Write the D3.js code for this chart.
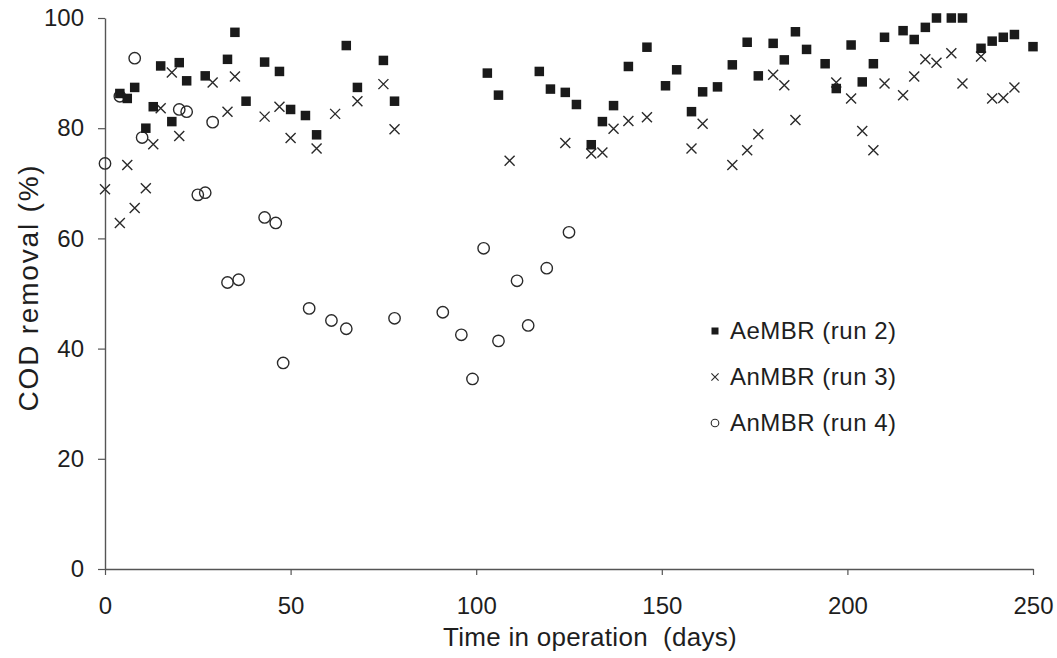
<!DOCTYPE html>
<html>
<head>
<meta charset="utf-8">
<script src="https://cdn.jsdelivr.net/npm/d3@7"></script>
<style>
  html, body { margin: 0; padding: 0; background: #fff; }
  svg { display: block; font-family: "Liberation Sans", Arial, sans-serif; }
</style>
</head>
<body>
<svg id="chart" width="1057" height="658"></svg>
<script>
// COD removal over time in operation for three reactor runs
const xTicks = [0, 50, 100, 150, 200, 250];
const yTicks = [0, 20, 40, 60, 80, 100];

// AeMBR (run 2)
const aeRun2Days = [4, 6, 8, 11, 13, 15, 18, 20, 22, 27, 33, 35, 38, 43, 47, 50, 54, 57, 65, 68, 75, 78,
  103, 106, 117, 120, 124, 127, 131, 134, 137, 141, 146, 151, 154, 158, 161, 165, 169, 173, 176, 180,
  183, 186, 189, 194, 197, 201, 204, 207, 210, 215, 218, 221, 224, 228, 231, 236, 239, 242, 245, 250];
const aeRun2Removal = [86.3, 85.4, 87.4, 80.0, 83.9, 91.3, 81.2, 91.9, 88.6, 89.5, 92.5, 97.4, 84.9, 92.0, 90.3, 83.4, 82.3, 78.8, 95.0, 87.4, 92.3, 84.9,
  90.0, 86.0, 90.3, 87.1, 86.5, 84.3, 77.0, 81.2, 84.1, 91.2, 94.7, 87.7, 90.6, 83.0, 86.6, 87.5, 91.5, 95.6, 89.5, 95.4,
  92.4, 97.5, 94.3, 91.7, 87.2, 95.1, 88.4, 91.7, 96.5, 97.7, 96.1, 98.3, 100, 100, 100, 94.5, 95.8, 96.5, 97.0, 94.8];

// AnMBR (run 3)
const anRun3Days = [0, 4, 6, 8, 11, 13, 15, 18, 20, 29, 33, 35, 43, 47, 50, 57, 62, 68, 75, 78,
  109, 124, 131, 134, 137, 141, 146, 158, 161, 169, 173, 176, 180, 183, 186, 197, 201, 204, 207, 210,
  215, 218, 221, 224, 228, 231, 236, 239, 242, 245];
const anRun3Removal = [68.9, 62.8, 73.3, 65.5, 69.1, 77.1, 83.6, 90.1, 78.6, 88.3, 83.0, 89.4, 82.1, 83.9, 78.2, 76.3, 82.6, 84.9, 88.0, 79.8,
  74.1, 77.3, 75.4, 75.6, 79.9, 81.3, 82.0, 76.3, 80.8, 73.3, 76.0, 78.9, 89.7, 87.8, 81.5, 88.3, 85.4, 79.5, 76.0, 88.1,
  86.0, 89.4, 92.5, 91.9, 93.6, 88.1, 93.0, 85.4, 85.5, 87.4];

// AnMBR (run 4)
const anRun4Days = [0, 4, 8, 10, 20, 22, 25, 27, 29, 33, 36, 43, 46, 48, 55, 61, 65, 78, 91, 96, 99, 102, 106, 111, 114, 119, 125];
const anRun4Removal = [73.6, 85.8, 92.7, 78.3, 83.4, 83.0, 67.9, 68.3, 81.1, 52.0, 52.5, 63.8, 62.8, 37.4, 47.3, 45.1, 43.6, 45.5, 46.6, 42.5, 34.5, 58.2, 41.4, 52.3, 44.2, 54.6, 61.1];

const legendLabels = ["AeMBR (run 2)", "AnMBR (run 3)", "AnMBR (run 4)"];

const zip = (xs, ys) => xs.map((d, i) => ({ day: d, value: ys[i] }));

const svg = d3.select("#chart");
const margin = { left: 105, right: 24, top: 18, bottom: 89 };
const W = 1057, H = 658;

const x = d3.scaleLinear().domain([0, 250]).range([margin.left, W - margin.right]);
const y = d3.scaleLinear().domain([0, 100]).range([H - margin.bottom, margin.top]);

const ink = "#1a1a1a";
const axisColor = "#555";
const textColor = "#1e1e1e";

// axes
const gx = svg.append("g")
  .attr("transform", `translate(0,${y(0)})`)
  .call(d3.axisBottom(x).tickValues(xTicks).tickSize(6).tickSizeOuter(0).tickPadding(22));
const gy = svg.append("g")
  .attr("transform", `translate(${x(0)},0)`)
  .call(d3.axisLeft(y).tickValues(yTicks).tickSize(7).tickSizeOuter(0).tickPadding(14));

[gx, gy].forEach(g => {
  g.select(".domain").attr("stroke", axisColor).attr("stroke-width", 1.4);
  g.selectAll(".tick line").attr("stroke", axisColor).attr("stroke-width", 1.2);
  g.selectAll(".tick text")
    .attr("fill", textColor)
    .style("font-size", "24px")
    .style("font-family", "'Liberation Sans', Arial, sans-serif");
});

// axis titles
svg.append("text")
  .attr("x", 590).attr("y", 646)
  .attr("text-anchor", "middle")
  .attr("fill", textColor)
  .style("font-size", "26px")
  .style("letter-spacing", "0.3px")
  .style("white-space", "pre")
  .text("Time in operation  (days)");

svg.append("text")
  .attr("transform", `translate(38,${(y(0) + y(100)) / 2 - 6}) rotate(-90)`)
  .attr("text-anchor", "middle")
  .attr("fill", textColor)
  .style("font-size", "28px")
  .style("letter-spacing", "1.8px")
  .text("COD removal (%)");

// markers
const circle = (g, r, sw) => g.append("circle").attr("r", r)
  .attr("fill", "none").attr("stroke", "#2a2a2a").attr("stroke-width", sw);
const cross = (g, s, sw) => g.append("path")
  .attr("d", `M${-s},${-s}L${s},${s}M${-s},${s}L${s},${-s}`)
  .attr("stroke", "#2a2a2a").attr("stroke-width", sw).attr("fill", "none");
const square = (g, s) => g.append("rect")
  .attr("x", -s / 2).attr("y", -s / 2).attr("width", s).attr("height", s)
  .attr("fill", ink);

const plot = svg.append("g");

plot.append("g").selectAll("g")
  .data(zip(anRun4Days, anRun4Removal))
  .join("g")
  .attr("transform", d => `translate(${x(d.day)},${y(d.value)})`)
  .each(function () { circle(d3.select(this), 5.7, 1.4); });

plot.append("g").selectAll("g")
  .data(zip(anRun3Days, anRun3Removal))
  .join("g")
  .attr("transform", d => `translate(${x(d.day)},${y(d.value)})`)
  .each(function () { cross(d3.select(this), 5, 1.4); });

plot.append("g").selectAll("g")
  .data(zip(aeRun2Days, aeRun2Removal))
  .join("g")
  .attr("transform", d => `translate(${x(d.day)},${y(d.value)})`)
  .each(function () { square(d3.select(this), 9.5); });

// legend
const legend = svg.append("g").attr("transform", "translate(715,0)");
const legendY = [339, 385, 431];
legendLabels.forEach((label, i) => {
  const row = legend.append("g").attr("transform", `translate(0,${legendY[i] - 8})`);
  if (i === 0) square(row, 7);
  else if (i === 1) cross(row, 3.6, 1.1);
  else circle(row, 3.8, 1.1);
  legend.append("text")
    .attr("x", 15).attr("y", legendY[i])
    .attr("fill", textColor)
    .style("font-size", "24px")
    .style("letter-spacing", "0.5px")
    .text(label);
});
</script>
</body>
</html>
